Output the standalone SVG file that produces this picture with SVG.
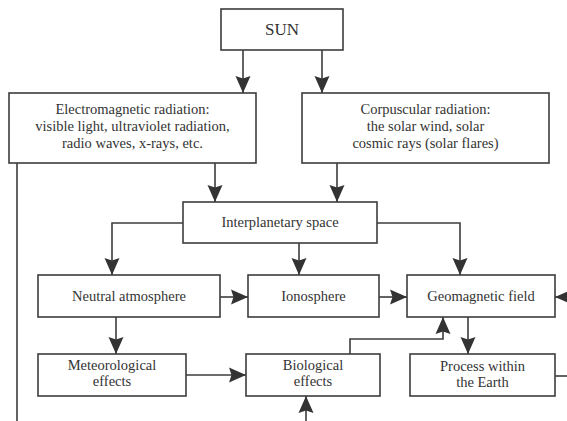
<svg xmlns="http://www.w3.org/2000/svg" width="567" height="421" viewBox="0 0 567 421">
<style>
.box{fill:#fff;stroke:#3c3c3c;stroke-width:1.6}
.t{font-family:"Liberation Serif","Times New Roman",serif;font-size:14.5px;fill:#333;text-anchor:middle}
.c{fill:none;stroke:#3c3c3c;stroke-width:1.6}
</style>
<defs>
<marker id="ah" markerUnits="userSpaceOnUse" markerWidth="18" markerHeight="16" viewBox="0 -8 18 16" refX="17" refY="0" orient="auto">
<path d="M0,-7.5 L17,0 L0,7.5 L2.5,0 z" fill="#333"/>
</marker>
</defs>
<rect width="567" height="421" fill="#fff"/>
<g id="connectors">
<path class="c" d="M243,50 V93" marker-end="url(#ah)"/>
<path class="c" d="M322,50 V93" marker-end="url(#ah)"/>
<path class="c" d="M17,163 V421"/>
<path class="c" d="M215,163 V202" marker-end="url(#ah)"/>
<path class="c" d="M337,163 V202" marker-end="url(#ah)"/>
<path class="c" d="M183,223 H112 V275" marker-end="url(#ah)"/>
<path class="c" d="M299,243 V275" marker-end="url(#ah)"/>
<path class="c" d="M377,223 H460 V275" marker-end="url(#ah)"/>
<path class="c" d="M220,297 H248" marker-end="url(#ah)"/>
<path class="c" d="M379,297 H407" marker-end="url(#ah)"/>
<path class="c" d="M567,297 H555" marker-end="url(#ah)"/>
<path class="c" d="M116,317 V354" marker-end="url(#ah)"/>
<path class="c" d="M468,317 V354" marker-end="url(#ah)"/>
<path class="c" d="M350,354 V339 H443 V317" marker-end="url(#ah)"/>
<path class="c" d="M186,375 H246" marker-end="url(#ah)"/>
<path class="c" d="M306,421 V396" marker-end="url(#ah)"/>
<path class="c" d="M555,376 H567"/>
</g>
<g id="sun"><rect class="box" x="221" y="9" width="122" height="41"/><text class="t" x="282" y="35" style="font-size:17px">SUN</text></g>
<g id="em"><rect class="box" x="9" y="93" width="247" height="70"/>
<text class="t" x="132.5" y="114">Electromagnetic radiation:</text>
<text class="t" x="132.5" y="131">visible light, ultraviolet radiation,</text>
<text class="t" x="132.5" y="148">radio waves, x-rays, etc.</text></g>
<g id="corp"><rect class="box" x="302" y="93" width="247" height="70"/>
<text class="t" x="425.5" y="114">Corpuscular radiation:</text>
<text class="t" x="425.5" y="131">the solar wind, solar</text>
<text class="t" x="425.5" y="148">cosmic rays (solar flares)</text></g>
<g id="ip"><rect class="box" x="183" y="202" width="194" height="41"/><text class="t" x="280" y="227">Interplanetary space</text></g>
<g id="neutral"><rect class="box" x="38" y="275" width="182" height="42"/><text class="t" x="129" y="301">Neutral atmosphere</text></g>
<g id="iono"><rect class="box" x="248" y="275" width="131" height="42"/><text class="t" x="313.5" y="301">Ionosphere</text></g>
<g id="geo"><rect class="box" x="407" y="275" width="148" height="42"/><text class="t" x="481" y="301">Geomagnetic field</text></g>
<g id="meteo"><rect class="box" x="38" y="354" width="148" height="42"/>
<text class="t" x="112" y="370">Meteorological</text><text class="t" x="112" y="386">effects</text></g>
<g id="bio"><rect class="box" x="246" y="354" width="134" height="42"/>
<text class="t" x="313" y="370">Biological</text><text class="t" x="313" y="386">effects</text></g>
<g id="process"><rect class="box" x="410" y="354" width="145" height="42"/>
<text class="t" x="482.5" y="371">Process within</text><text class="t" x="482.5" y="387">the Earth</text></g>
</svg>
